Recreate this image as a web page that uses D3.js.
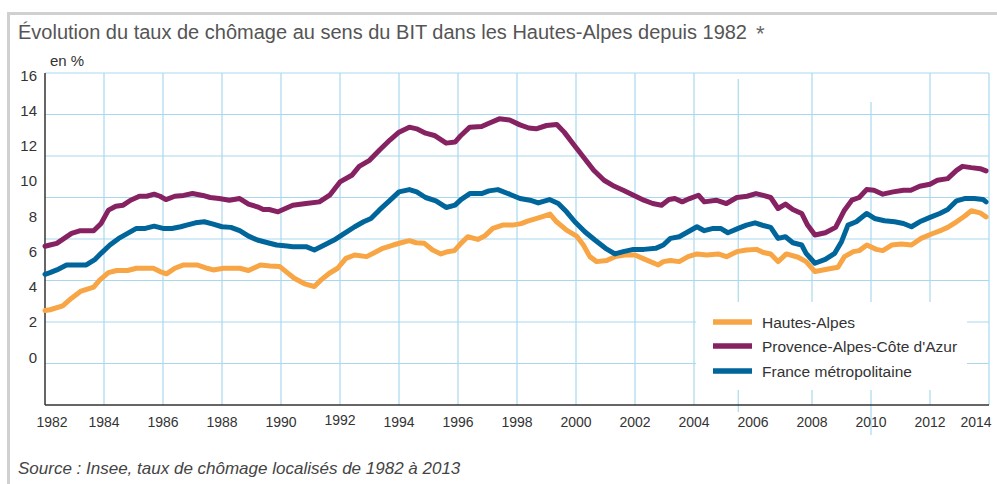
<!DOCTYPE html>
<html>
<head>
<meta charset="utf-8">
<script src="https://cdn.jsdelivr.net/npm/d3@7"></script>
<style>
  body { margin: 0; background: #fff; }
  svg text { font-family: "Liberation Sans", Arial, sans-serif; }
</style>
</head>
<body>
<svg id="chart" width="997" height="484"></svg>
<script>
// chart values (year, rate in %)
const hautesAlpes = [[1982.0,4.55],[1982.17,4.59],[1982.6,4.78],[1982.9,5.15],[1983.2,5.47],[1983.65,5.68],[1983.86,6.03],[1984.15,6.38],[1984.43,6.48],[1984.8,6.48],[1985.1,6.59],[1985.45,6.59],[1985.67,6.59],[1985.9,6.43],[1986.12,6.32],[1986.4,6.59],[1986.7,6.75],[1987.15,6.75],[1987.5,6.59],[1987.7,6.51],[1988.05,6.59],[1988.6,6.59],[1988.9,6.48],[1989.3,6.75],[1989.63,6.7],[1989.95,6.68],[1990.17,6.43],[1990.45,6.11],[1990.8,5.84],[1991.13,5.71],[1991.36,6.03],[1991.64,6.35],[1991.92,6.59],[1992.2,7.07],[1992.5,7.23],[1992.9,7.15],[1993.16,7.34],[1993.45,7.55],[1993.8,7.71],[1994.07,7.82],[1994.35,7.92],[1994.58,7.82],[1994.86,7.79],[1995.14,7.47],[1995.42,7.28],[1995.65,7.39],[1995.88,7.44],[1996.1,7.79],[1996.33,8.11],[1996.67,7.98],[1996.9,8.14],[1997.18,8.51],[1997.51,8.67],[1997.85,8.67],[1998.14,8.74],[1998.36,8.86],[1998.84,9.07],[1999.12,9.2],[1999.34,8.83],[1999.68,8.43],[2000.02,8.14],[2000.25,7.71],[2000.47,7.15],[2000.7,6.91],[2001.04,6.96],[2001.32,7.15],[2001.66,7.23],[2002.0,7.23],[2002.34,7.02],[2002.79,6.75],[2002.96,6.91],[2003.2,6.96],[2003.5,6.91],[2003.8,7.15],[2004.1,7.28],[2004.43,7.23],[2004.82,7.28],[2005.1,7.15],[2005.45,7.39],[2005.78,7.47],[2006.12,7.5],[2006.35,7.35],[2006.6,7.28],[2006.85,6.91],[2007.13,7.28],[2007.53,7.12],[2007.8,6.91],[2008.1,6.43],[2008.5,6.54],[2008.88,6.64],[2009.1,7.15],[2009.4,7.39],[2009.6,7.44],[2009.86,7.71],[2010.18,7.5],[2010.4,7.44],[2010.7,7.71],[2011.03,7.76],[2011.37,7.71],[2011.7,8.03],[2012.05,8.24],[2012.4,8.43],[2012.6,8.56],[2012.9,8.83],[2013.17,9.1],[2013.4,9.36],[2013.7,9.26],[2013.9,9.07]];

const paca = [[1982.0,7.65],[1982.17,7.71],[1982.4,7.79],[1982.9,8.27],[1983.2,8.4],[1983.65,8.4],[1983.9,8.75],[1984.15,9.39],[1984.4,9.58],[1984.65,9.63],[1984.9,9.87],[1985.2,10.06],[1985.45,10.06],[1985.7,10.16],[1985.9,10.06],[1986.1,9.9],[1986.4,10.06],[1986.7,10.1],[1987.0,10.19],[1987.35,10.1],[1987.6,10.0],[1987.9,9.95],[1988.25,9.87],[1988.6,9.95],[1988.9,9.68],[1989.2,9.55],[1989.4,9.42],[1989.6,9.42],[1989.9,9.31],[1990.4,9.63],[1990.85,9.71],[1991.3,9.79],[1991.65,10.11],[1992.0,10.75],[1992.4,11.07],[1992.65,11.5],[1993.0,11.79],[1993.35,12.3],[1993.7,12.78],[1994.0,13.15],[1994.35,13.39],[1994.6,13.31],[1994.9,13.1],[1995.2,12.99],[1995.6,12.62],[1995.9,12.67],[1996.1,12.99],[1996.4,13.39],[1996.8,13.42],[1997.05,13.58],[1997.4,13.79],[1997.75,13.74],[1998.1,13.5],[1998.4,13.35],[1998.65,13.31],[1999.0,13.47],[1999.35,13.52],[1999.6,13.15],[1999.9,12.59],[2000.25,11.95],[2000.6,11.31],[2000.95,10.83],[2001.3,10.54],[2001.6,10.35],[2001.95,10.11],[2002.3,9.87],[2002.6,9.71],[2002.9,9.63],[2003.15,9.9],[2003.35,9.95],[2003.6,9.79],[2003.85,9.95],[2004.15,10.11],[2004.35,9.79],[2004.75,9.87],[2005.1,9.71],[2005.45,10.0],[2005.8,10.06],[2006.1,10.19],[2006.35,10.1],[2006.6,10.0],[2006.85,9.47],[2007.1,9.68],[2007.35,9.42],[2007.65,9.23],[2007.85,8.67],[2008.1,8.19],[2008.45,8.3],[2008.8,8.56],[2009.1,9.39],[2009.35,9.87],[2009.6,10.0],[2009.85,10.38],[2010.1,10.35],[2010.4,10.16],[2010.75,10.27],[2011.1,10.35],[2011.35,10.35],[2011.65,10.54],[2012.0,10.64],[2012.25,10.83],[2012.6,10.91],[2012.9,11.31],[2013.1,11.5],[2013.4,11.44],[2013.7,11.39],[2013.9,11.28]];

const franceMetro = [[1982.0,6.3],[1982.17,6.38],[1982.4,6.51],[1982.73,6.75],[1983.07,6.75],[1983.4,6.75],[1983.7,7.02],[1983.9,7.31],[1984.2,7.71],[1984.5,8.03],[1984.8,8.27],[1985.1,8.51],[1985.4,8.51],[1985.7,8.62],[1986.0,8.51],[1986.3,8.51],[1986.6,8.59],[1986.8,8.67],[1987.1,8.78],[1987.4,8.83],[1987.7,8.72],[1988.0,8.59],[1988.3,8.56],[1988.6,8.4],[1988.9,8.14],[1989.2,7.95],[1989.55,7.82],[1989.85,7.71],[1990.2,7.66],[1990.4,7.63],[1990.85,7.63],[1991.13,7.47],[1991.47,7.71],[1991.8,7.95],[1992.15,8.27],[1992.5,8.59],[1992.8,8.83],[1993.05,8.99],[1993.33,9.39],[1993.7,9.87],[1994.0,10.27],[1994.35,10.38],[1994.6,10.27],[1994.9,10.0],[1995.25,9.84],[1995.6,9.52],[1995.9,9.63],[1996.1,9.9],[1996.4,10.19],[1996.8,10.19],[1997.05,10.32],[1997.35,10.38],[1997.75,10.16],[1998.1,9.95],[1998.44,9.87],[1998.72,9.74],[1999.1,9.9],[1999.4,9.71],[1999.68,9.31],[1999.96,8.83],[2000.3,8.35],[2000.64,7.95],[2001.0,7.55],[2001.32,7.28],[2001.6,7.39],[2001.95,7.5],[2002.3,7.5],[2002.7,7.55],[2002.96,7.71],[2003.2,8.03],[2003.5,8.11],[2003.8,8.35],[2004.1,8.59],[2004.35,8.4],[2004.65,8.51],[2004.9,8.51],[2005.15,8.3],[2005.5,8.51],[2005.78,8.67],[2006.07,8.78],[2006.35,8.65],[2006.6,8.56],[2006.85,8.03],[2007.1,8.11],[2007.35,7.82],[2007.65,7.71],[2007.8,7.31],[2008.1,6.83],[2008.45,7.02],[2008.77,7.31],[2009.0,7.87],[2009.22,8.67],[2009.5,8.83],[2009.85,9.23],[2010.12,8.99],[2010.46,8.88],[2010.8,8.83],[2011.1,8.75],[2011.37,8.59],[2011.65,8.83],[2012.0,9.04],[2012.33,9.23],[2012.6,9.42],[2012.9,9.84],[2013.17,9.95],[2013.5,9.95],[2013.8,9.9],[2013.9,9.79]];

const seriesNames = ["Hautes-Alpes", "Provence-Alpes-Côte d'Azur", "France métropolitaine"];
const yearTicks = [1982,1984,1986,1988,1990,1992,1994,1996,1998,2000,2002,2004,2006,2008,2010,2012,2014];
const gridYears = [1984,1986,1988,1990,1992,1994,1996,1998,2000,2002,2004,2005.5,2008,2010,2012,2014];
const rateTicks = [0,2,4,6,8,10,12,14,16];

const series = [
  { name: seriesNames[0], values: hautesAlpes, color: "#f8a545" },
  { name: seriesNames[1], values: paca, color: "#862162" },
  { name: seriesNames[2], values: franceMetro, color: "#00659b" }
];

const svg = d3.select("#chart");
const gridColor = "#a9d9ef";

const x = d3.scaleLinear().domain([1982, 2014]).range([45, 989]);
const y = d3.scaleLinear().domain([0, 16]).range([405, 73]);
// the printed tick labels sit on a tighter spacing than the grid
const yLabel = d3.scaleLinear().domain([0, 16]).range([357, 75]);

// outer grey frame
svg.append("rect").attr("x", 7).attr("y", 12).attr("width", 990).attr("height", 3).attr("fill", "#d0d0d0");
svg.append("rect").attr("x", 7).attr("y", 12).attr("width", 3).attr("height", 472).attr("fill", "#d0d0d0");

// title
svg.append("text")
  .attr("x", 18).attr("y", 39)
  .attr("font-size", 20)
  .attr("fill", "#555")
  .text("Évolution du taux de chômage au sens du BIT dans les Hautes-Alpes depuis 1982");
svg.append("text")
  .attr("x", 756).attr("y", 41)
  .attr("font-size", 22)
  .attr("fill", "#666")
  .text("*");

svg.append("text")
  .attr("x", 50).attr("y", 66)
  .attr("font-size", 15)
  .attr("fill", "#333")
  .text("en %");

// grid
const grid = svg.append("g");
grid.selectAll(".hgrid")
  .data(rateTicks.filter(d => d > 0))
  .enter().append("line")
  .attr("x1", x(1982)).attr("x2", x(2014))
  .attr("y1", d => y(d)).attr("y2", d => y(d))
  .attr("stroke", gridColor).attr("stroke-width", 1.2);

grid.selectAll(".vgrid")
  .data(gridYears)
  .enter().append("line")
  .attr("x1", d => x(d)).attr("x2", d => x(d))
  .attr("y1", d => d == 2010 ? 102 : d == 2005.5 ? 79 : y(16))
  .attr("y2", d => d == 2010 ? 435 : d == 2005.5 ? 412 : y(0))
  .attr("stroke", gridColor).attr("stroke-width", 1.2);

// legend box hides the grid behind it
svg.append("rect")
  .attr("x", 696).attr("y", 302).attr("width", 271).attr("height", 88)
  .attr("fill", "#fff");

// axes
svg.append("line")
  .attr("x1", x(1982)).attr("x2", x(1982)).attr("y1", y(16)).attr("y2", y(0))
  .attr("stroke", "#333").attr("stroke-width", 1.5);
svg.append("line")
  .attr("x1", x(1982)).attr("x2", x(2014)).attr("y1", y(0)).attr("y2", y(0))
  .attr("stroke", "#333").attr("stroke-width", 1.5);

svg.append("g").selectAll("text")
  .data(rateTicks)
  .enter().append("text")
  .attr("x", 37)
  .attr("y", d => yLabel(d) + 5.5)
  .attr("text-anchor", "end")
  .attr("font-size", 15)
  .attr("fill", "#333")
  .text(d => d);

svg.append("g").selectAll("text")
  .data(yearTicks)
  .enter().append("text")
  .attr("x", d => x(d) + (d == 1982 ? 7 : d == 2014 ? -13 : 0))
  .attr("y", d => d == 1992 ? 425 : 427)
  .attr("text-anchor", "middle")
  .attr("font-size", 14)
  .attr("fill", "#333")
  .text(d => d);

// series lines
const line = d3.line()
  .x(d => x(d[0]))
  .y(d => y(d[1]))
  .curve(d3.curveLinear);

svg.append("g").selectAll("path")
  .data(series)
  .enter().append("path")
  .attr("d", d => line(d.values))
  .attr("fill", "none")
  .attr("stroke", d => d.color)
  .attr("stroke-width", 5)
  .attr("stroke-linejoin", "round")
  .attr("stroke-linecap", "round");

// legend
const legendRows = [322, 346, 371];
const legend = svg.append("g").selectAll("g")
  .data(series)
  .enter().append("g")
  .attr("transform", (d, i) => `translate(713,${legendRows[i]})`);
legend.append("line")
  .attr("x1", 0).attr("x2", 39)
  .attr("stroke", d => d.color).attr("stroke-width", 5.5);
legend.append("text")
  .attr("x", 49).attr("y", 5.5)
  .attr("font-size", 15.5)
  .attr("fill", "#333")
  .text(d => d.name);

// source
svg.append("text")
  .attr("x", 18).attr("y", 474)
  .attr("font-size", 17)
  .attr("font-style", "italic")
  .attr("fill", "#444")
  .text("Source : Insee, taux de chômage localisés de 1982 à 2013");
</script>
</body>
</html>
